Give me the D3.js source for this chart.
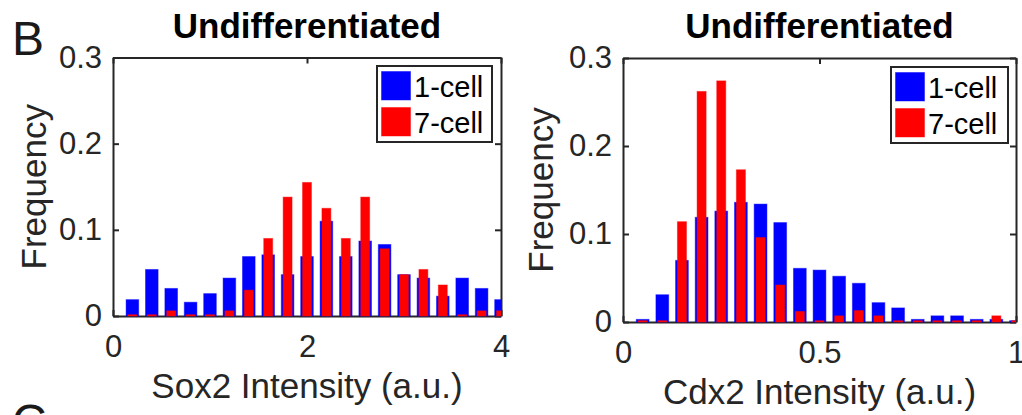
<!DOCTYPE html>
<html>
<head>
<meta charset="utf-8">
<script src="https://cdn.jsdelivr.net/npm/d3@7"></script>
<style>
  html, body { margin: 0; padding: 0; background: #fff; }
  svg { display: block; font-family: "Liberation Sans", Arial, Helvetica, sans-serif; }
</style>
</head>
<body>
<svg id="fig" width="1022" height="415"></svg>
<script>
// bin centres and frequencies
var sox2Bins = [0.2, 0.4, 0.6, 0.8, 1.0, 1.2, 1.4, 1.6, 1.8, 2.0, 2.2, 2.4, 2.6, 2.8, 3.0, 3.2, 3.4, 3.6, 3.8, 4.0];
var sox2OneCell = [0.019, 0.054, 0.032, 0.016, 0.026, 0.044, 0.069, 0.071, 0.048, 0.069, 0.110, 0.069, 0.087, 0.083, 0.048, 0.044, 0.023, 0.044, 0.032, 0.019];
var sox2SevenCell = [0.0015, 0.0015, 0.006, 0.0015, 0.0015, 0.006, 0.030, 0.090, 0.138, 0.155, 0.125, 0.090, 0.138, 0.078, 0.048, 0.054, 0.036, 0.0015, 0.006, 0.006];

var cdx2Bins = [0.05, 0.10, 0.15, 0.20, 0.25, 0.30, 0.35, 0.40, 0.45, 0.50, 0.55, 0.60, 0.65, 0.70, 0.75, 0.80, 0.85, 0.90, 0.95, 1.00];
var cdx2OneCell = [0.003, 0.031, 0.070, 0.119, 0.126, 0.136, 0.134, 0.113, 0.061, 0.059, 0.052, 0.044, 0.022, 0.016, 0.003, 0.007, 0.007, 0.003, 0.003, 0.0015];
var cdx2SevenCell = [0.0015, 0.0015, 0.114, 0.262, 0.274, 0.173, 0.096, 0.042, 0.012, 0.0015, 0.007, 0.013, 0.007, 0.0015, 0.0015, 0.0015, 0.0015, 0.0015, 0.007, 0.0015];

var sox2Ticks = [0, 2, 4];
var cdx2Ticks = [0, 0.5, 1];
var freqTicks = [0, 0.1, 0.2, 0.3];
var seriesNames = ["1-cell", "7-cell"];
var seriesColors = ["#0000ff", "#ff0000"];

var axisColor = "#262626";
var svg = d3.select("#fig");

function drawPanel(p) {
    var x = d3.scaleLinear().domain(p.domain).range([p.left, p.right]);
    var y = d3.scaleLinear().domain([0, 0.3]).range([p.bottom, p.top]);
    var g = svg.append("g");
    var fmt = function (d) { return String(d); };

    // box + inward ticks
    var xb = g.append("g").attr("transform", "translate(0," + p.bottom + ")")
        .call(d3.axisBottom(x).tickValues(p.xticks).tickFormat(fmt).tickSizeInner(-6).tickSizeOuter(0).tickPadding(19));
    var xt = g.append("g").attr("transform", "translate(0," + p.top + ")")
        .call(d3.axisTop(x).tickValues(p.xticks).tickFormat("").tickSizeInner(-6).tickSizeOuter(0));
    var yl = g.append("g").attr("transform", "translate(" + p.left + ",0)")
        .call(d3.axisLeft(y).tickValues(freqTicks).tickFormat(fmt).tickSizeInner(-6).tickSizeOuter(0).tickPadding(11));
    var yr = g.append("g").attr("transform", "translate(" + p.right + ",0)")
        .call(d3.axisRight(y).tickValues(freqTicks).tickFormat("").tickSizeInner(-6).tickSizeOuter(0));
    [xb, xt, yl, yr].forEach(function (a) {
        a.select(".domain").attr("stroke", axisColor).attr("stroke-width", 2);
        a.selectAll(".tick line").attr("stroke", axisColor).attr("stroke-width", 2);
        a.selectAll("text").attr("fill", axisColor).style("font-size", "31px")
            .style("font-family", "'Liberation Sans', Arial, sans-serif");
    });

    // bars
    var clipId = "clip" + p.id;
    svg.append("clipPath").attr("id", clipId).append("rect")
        .attr("x", p.left).attr("y", p.top).attr("width", p.right - p.left).attr("height", p.bottom - p.top + 1);
    var bw = x(p.domain[0] + p.binW) - x(p.domain[0]);
    var bars = g.append("g").attr("clip-path", "url(#" + clipId + ")");
    [p.one, p.seven].forEach(function (vals, si) {
        var w = bw * (si === 0 ? 0.65 : 0.46);
        bars.append("g").selectAll("rect").data(vals).join("rect")
            .attr("x", function (d, i) { return x(p.bins[i]) - w / 2; })
            .attr("y", function (d) { return y(d); })
            .attr("width", w)
            .attr("height", function (d) { return y(0) - y(d); })
            .attr("fill", seriesColors[si])
            .attr("stroke", seriesColors[si]).attr("stroke-opacity", 0.45).attr("stroke-width", 1);
    });

    // title and labels
    g.append("text").attr("x", (p.left + p.right) / 2).attr("y", 38)
        .attr("text-anchor", "middle").style("font-size", "35px").style("font-weight", "bold")
        .attr("fill", "#000").text("Undifferentiated");
    g.append("text").attr("x", (p.left + p.right) / 2).attr("y", p.bottom + 82)
        .attr("text-anchor", "middle").style("font-size", "35px")
        .attr("fill", axisColor).text(p.xlabel);
    g.append("text")
        .attr("transform", "translate(" + p.ylabelX + "," + ((p.top + p.bottom) / 2) + ") rotate(-90)")
        .attr("text-anchor", "middle").style("font-size", "35px")
        .attr("fill", axisColor).text("Frequency");

    // legend
    var lg = g.append("g").attr("transform", "translate(" + p.legX + "," + p.legY + ")");
    lg.append("rect").attr("width", p.legW).attr("height", 76)
        .attr("fill", "#fff").attr("stroke", axisColor).attr("stroke-width", 2);
    seriesNames.forEach(function (name, i) {
        lg.append("rect").attr("x", 4.5).attr("y", 5.5 + i * 36).attr("width", 29).attr("height", 28.5)
            .attr("fill", seriesColors[i]).attr("stroke", seriesColors[i]).attr("stroke-opacity", 0.45);
        lg.append("text").attr("x", 37).attr("y", 31 + i * 36)
            .style("font-size", "29px").attr("fill", "#000").text(name);
    });
}

drawPanel({
    id: "L", left: 113, right: 501, top: 57.5, bottom: 316, domain: [0, 4], binW: 0.2,
    xticks: sox2Ticks, bins: sox2Bins, one: sox2OneCell, seven: sox2SevenCell,
    xlabel: "Sox2 Intensity (a.u.)", ylabelX: 46, legX: 377, legY: 66, legW: 115
});
drawPanel({
    id: "R", left: 623, right: 1016, top: 58, bottom: 322, domain: [0, 1], binW: 0.05,
    xticks: cdx2Ticks, bins: cdx2Bins, one: cdx2OneCell, seven: cdx2SevenCell,
    xlabel: "Cdx2 Intensity (a.u.)", ylabelX: 553, legX: 891, legY: 67, legW: 117
});

// panel letters
svg.append("text").attr("x", 12).attr("y", 55).style("font-size", "48px").attr("fill", "#1a1a1a").text("B");
svg.append("text").attr("x", 12).attr("y", 438).style("font-size", "48px").attr("fill", "#1a1a1a").text("C");
</script>
</body>
</html>
